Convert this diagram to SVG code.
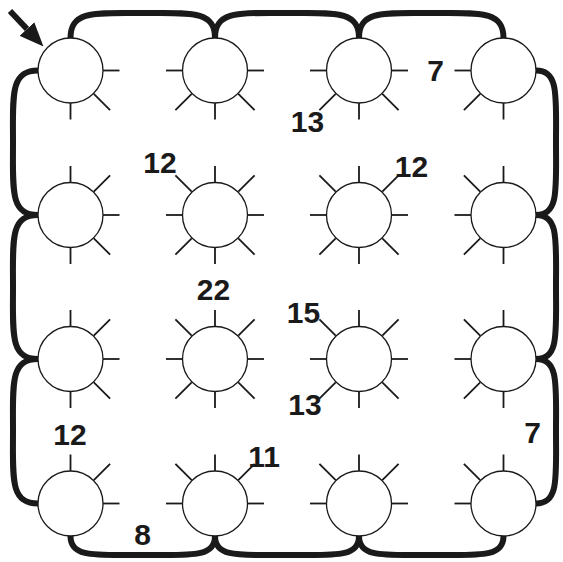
<svg xmlns="http://www.w3.org/2000/svg" xmlns:xlink="http://www.w3.org/1999/xlink" width="563" height="562" viewBox="0 0 563 562">
<style>
.node circle{fill:#fff;stroke:#1a1a1a;stroke-width:1.3}
.node{stroke:#1a1a1a;stroke-width:1.8;fill:none}
.conn path{fill:none;stroke:#1a1a1a;stroke-width:6;stroke-linecap:butt}
.lbl{font-family:"Liberation Sans",Arial,sans-serif;font-weight:bold;font-size:30px;fill:#1a1a1a;text-anchor:middle}
</style>
<defs>
<line id="N" x1="0" y1="-32.5" x2="0" y2="-49"/>
<line id="S" x1="0" y1="32.5" x2="0" y2="49"/>
<line id="E" x1="32.5" y1="0" x2="49" y2="0"/>
<line id="W" x1="-32.5" y1="0" x2="-49" y2="0"/>
<line id="NE" x1="23.3" y1="-23.3" x2="39.6" y2="-39.6"/>
<line id="NW" x1="-23.3" y1="-23.3" x2="-39.6" y2="-39.6"/>
<line id="SE" x1="23.3" y1="23.3" x2="39.6" y2="39.6"/>
<line id="SW" x1="-23.3" y1="23.3" x2="-39.6" y2="39.6"/>
<marker id="ah" viewBox="0 0 24 20" refX="0" refY="10" markerWidth="24" markerHeight="20" markerUnits="userSpaceOnUse" orient="auto">
<path d="M0,0 L24,10 L0,20 z" fill="#1a1a1a"/>
</marker>
</defs>
<rect width="563" height="562" fill="#fff"/>
<g class="conn" id="connectors">
<path d="M70.5,38 C70.5,10 95.5,13 142.75,13 S215,10 215,38"/>
<path d="M215,38 C215,10 240,13 287,13 S359,10 359,38"/>
<path d="M359,38 C359,10 384,13 431.25,13 S503.5,10 503.5,38"/>
<path d="M38,70.5 C10,70.5 13,95.5 13,142.75 S10,215 38,215"/>
<path d="M38,215 C10,215 13,240 13,287 S10,359 38,359"/>
<path d="M38,359 C10,359 13,384 13,431.25 S10,503.5 38,503.5"/>
<path d="M536,70.5 C559,70.5 556,95.5 556,142.75 S559,215 536,215"/>
<path d="M536,215 C559,215 556,240 556,287 S559,359 536,359"/>
<path d="M536,359 C559,359 556,384 556,431.25 S559,503.5 536,503.5"/>
<path d="M70.5,536 C70.5,558 95.5,555 142.75,555 S215,558 215,536"/>
<path d="M215,536 C215,558 240,555 287,555 S359,558 359,536"/>
<path d="M359,536 C359,558 384,555 431.25,555 S503.5,558 503.5,536"/>
<path d="M10,11 L27,29" stroke-width="5" marker-end="url(#ah)"/>
</g>
<g id="n11" class="node" transform="translate(70.5,70.5)"><circle r="32.5"/><use href="#E"/><use href="#SE"/><use href="#S"/></g>
<g id="n12" class="node" transform="translate(215,70.5)"><circle r="32.5"/><use href="#W"/><use href="#E"/><use href="#SW"/><use href="#S"/><use href="#SE"/></g>
<g id="n13" class="node" transform="translate(359,70.5)"><circle r="32.5"/><use href="#W"/><use href="#E"/><use href="#SW"/><use href="#S"/><use href="#SE"/></g>
<g id="n14" class="node" transform="translate(503.5,70.5)"><circle r="32.5"/><use href="#W"/><use href="#SW"/><use href="#S"/></g>
<g id="n21" class="node" transform="translate(70.5,215)"><circle r="32.5"/><use href="#N"/><use href="#NE"/><use href="#E"/><use href="#SE"/><use href="#S"/></g>
<g id="n22" class="node" transform="translate(215,215)"><circle r="32.5"/><use href="#N"/><use href="#NE"/><use href="#E"/><use href="#SE"/><use href="#S"/><use href="#SW"/><use href="#W"/><use href="#NW"/></g>
<g id="n23" class="node" transform="translate(359,215)"><circle r="32.5"/><use href="#N"/><use href="#NE"/><use href="#E"/><use href="#SE"/><use href="#S"/><use href="#SW"/><use href="#W"/><use href="#NW"/></g>
<g id="n24" class="node" transform="translate(503.5,215)"><circle r="32.5"/><use href="#NW"/><use href="#N"/><use href="#W"/><use href="#SW"/><use href="#S"/></g>
<g id="n31" class="node" transform="translate(70.5,359)"><circle r="32.5"/><use href="#N"/><use href="#NE"/><use href="#E"/><use href="#SE"/><use href="#S"/></g>
<g id="n32" class="node" transform="translate(215,359)"><circle r="32.5"/><use href="#N"/><use href="#NE"/><use href="#E"/><use href="#SE"/><use href="#S"/><use href="#SW"/><use href="#W"/><use href="#NW"/></g>
<g id="n33" class="node" transform="translate(359,359)"><circle r="32.5"/><use href="#N"/><use href="#NE"/><use href="#E"/><use href="#SE"/><use href="#S"/><use href="#SW"/><use href="#W"/><use href="#NW"/></g>
<g id="n34" class="node" transform="translate(503.5,359)"><circle r="32.5"/><use href="#NW"/><use href="#N"/><use href="#W"/><use href="#SW"/><use href="#S"/></g>
<g id="n41" class="node" transform="translate(70.5,503.5)"><circle r="32.5"/><use href="#N"/><use href="#NE"/><use href="#E"/></g>
<g id="n42" class="node" transform="translate(215,503.5)"><circle r="32.5"/><use href="#NW"/><use href="#N"/><use href="#NE"/><use href="#W"/><use href="#E"/></g>
<g id="n43" class="node" transform="translate(359,503.5)"><circle r="32.5"/><use href="#NW"/><use href="#N"/><use href="#NE"/><use href="#W"/><use href="#E"/></g>
<g id="n44" class="node" transform="translate(503.5,503.5)"><circle r="32.5"/><use href="#NW"/><use href="#N"/><use href="#W"/></g>
<g id="labels">
<text class="lbl" x="435.5" y="81">7</text>
<text class="lbl" x="307.5" y="132">13</text>
<text class="lbl" x="160" y="173">12</text>
<text class="lbl" x="411.5" y="177">12</text>
<text class="lbl" x="213.5" y="300">22</text>
<text class="lbl" x="303.5" y="323">15</text>
<text class="lbl" x="305" y="415">13</text>
<text class="lbl" x="70" y="445">12</text>
<text class="lbl" x="264" y="467">11</text>
<text class="lbl" x="142.5" y="545">8</text>
<text class="lbl" x="532.5" y="443">7</text>
</g>
</svg>
